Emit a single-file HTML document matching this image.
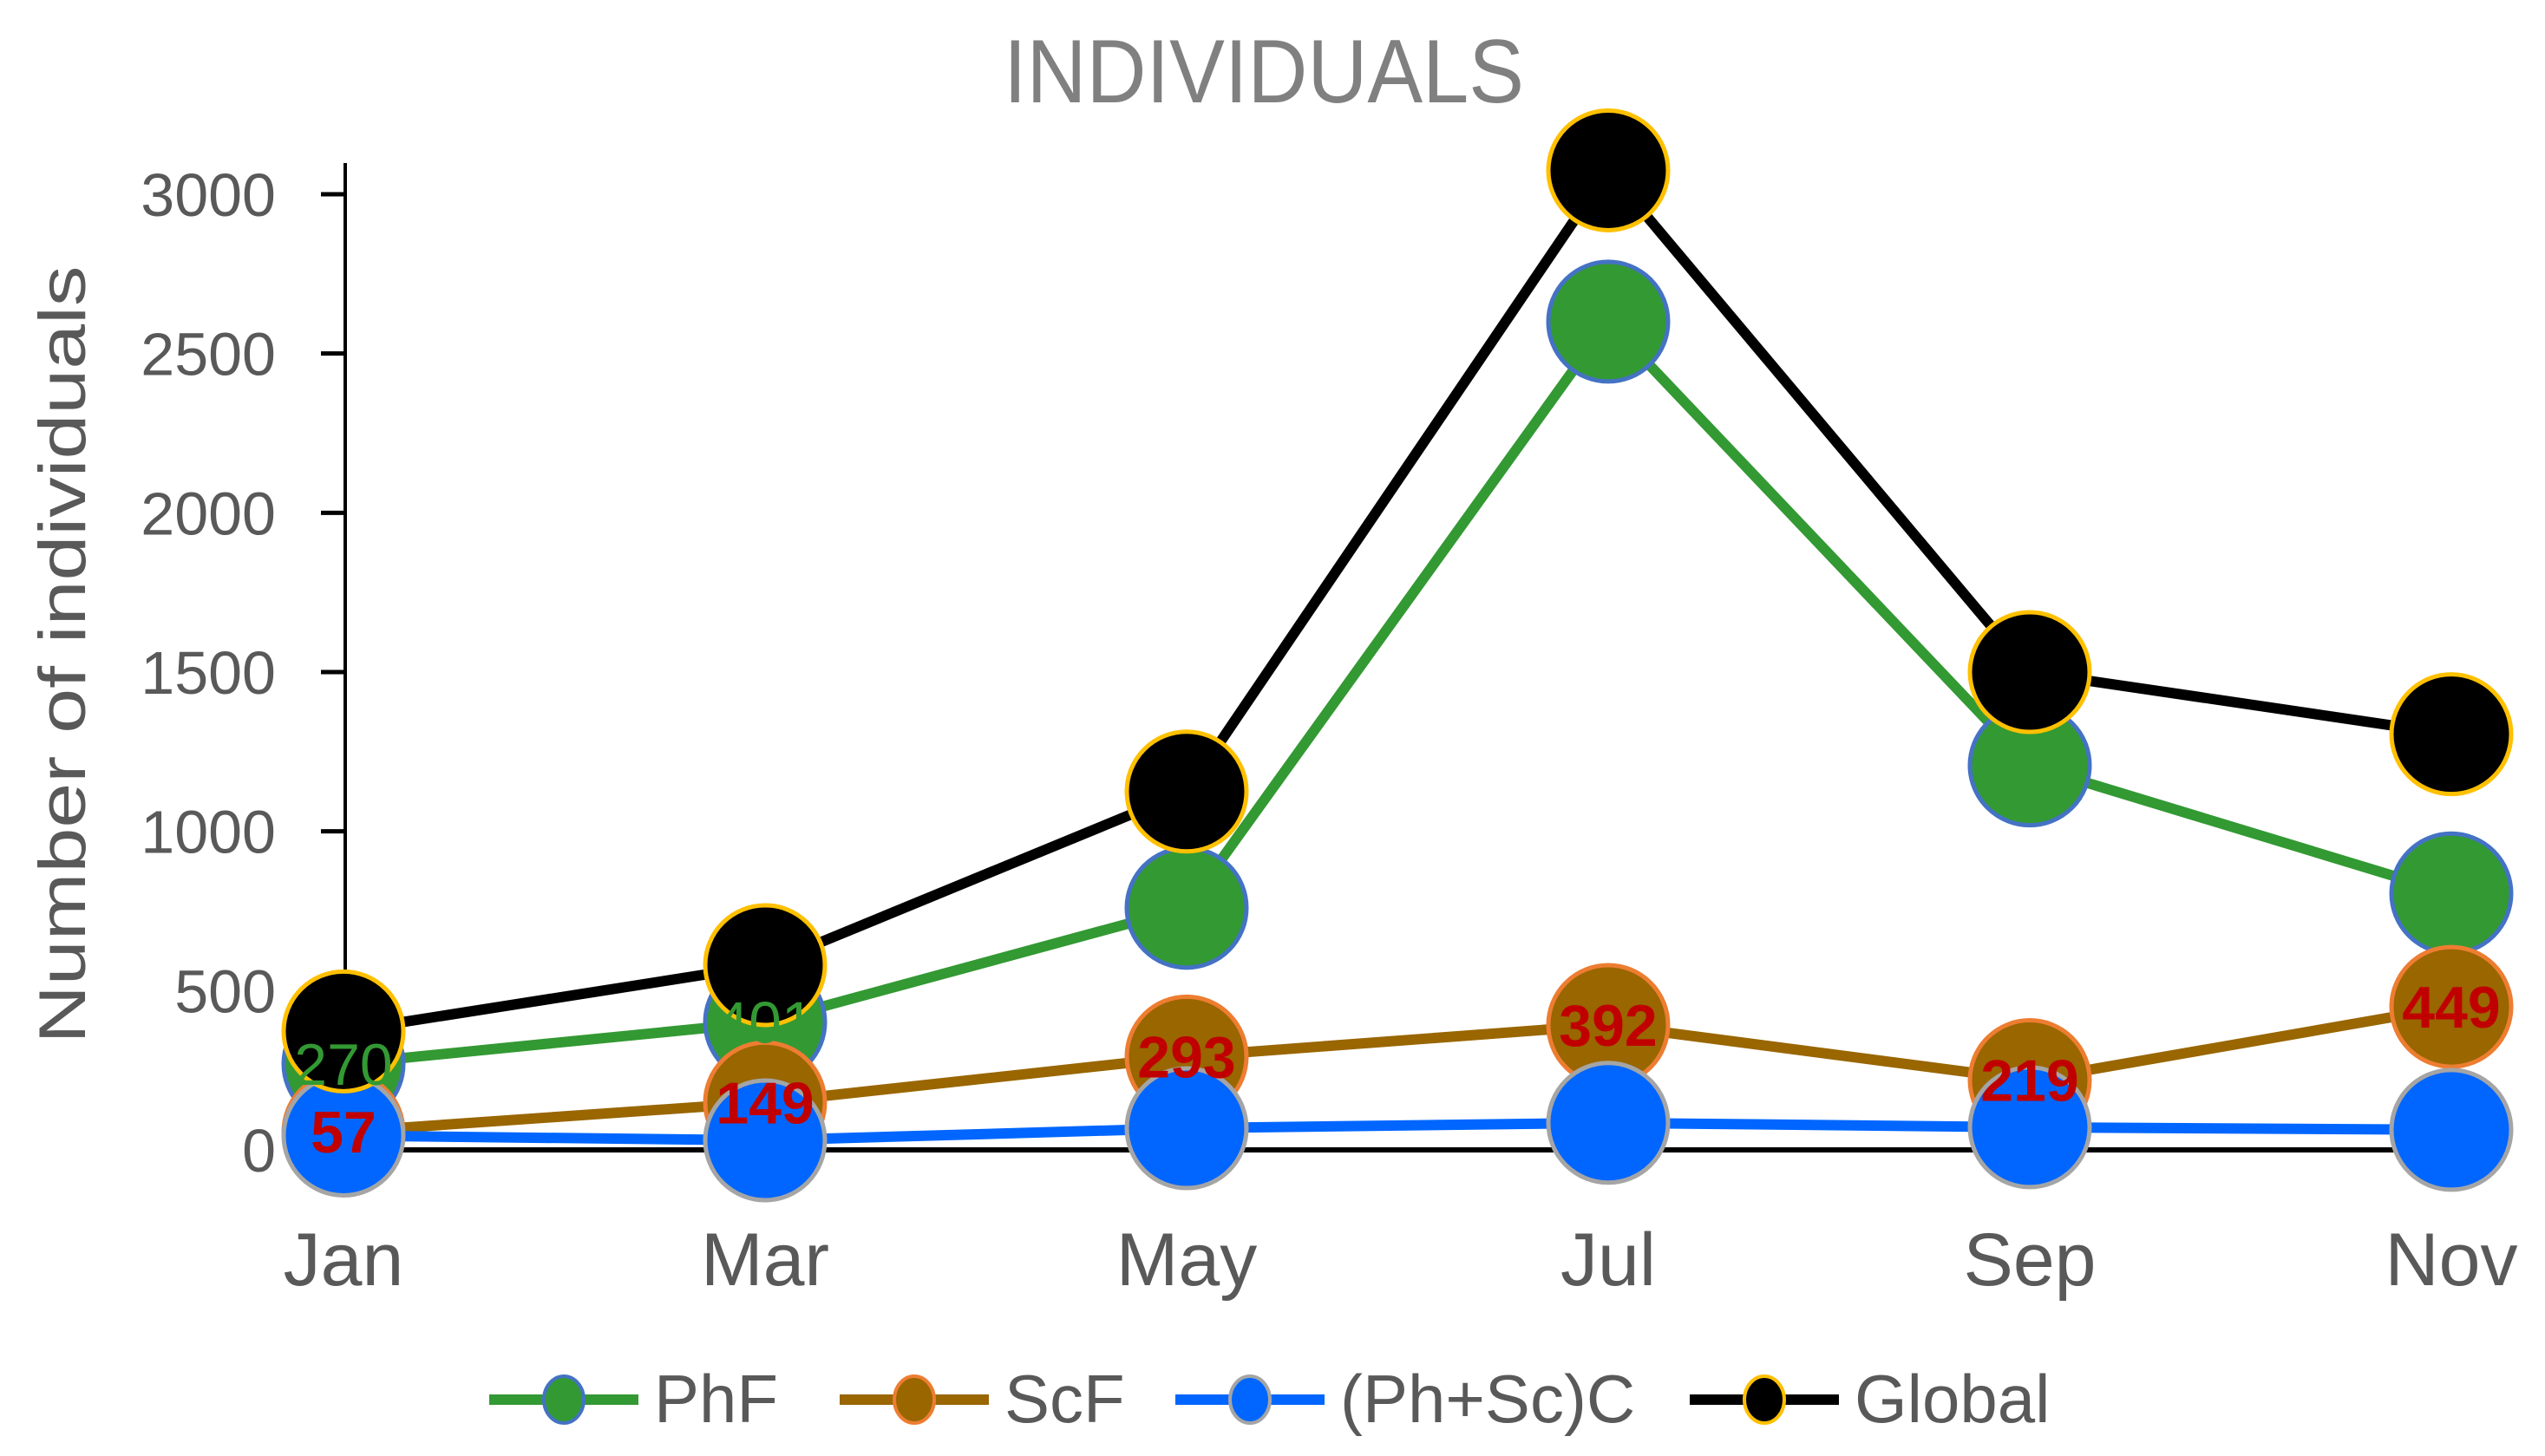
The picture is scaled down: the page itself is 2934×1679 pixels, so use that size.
<!DOCTYPE html>
<html><head><meta charset="utf-8"><style>
html,body{margin:0;padding:0;background:#fff;}
svg{display:block;}
text{font-family:"Liberation Sans",sans-serif;}
</style></head><body>
<svg id="chart" width="2934" height="1679" viewBox="0 0 2934 1679" xmlns="http://www.w3.org/2000/svg">
<rect width="2934" height="1679" fill="#fff"/>
<text x="1457" y="118" text-anchor="middle" font-size="104" fill="#808080" textLength="600" lengthAdjust="spacingAndGlyphs">INDIVIDUALS</text>
<text transform="translate(98,755) rotate(-90)" text-anchor="middle" font-size="76" fill="#595959" font-family="DejaVu Sans, sans-serif" textLength="897" lengthAdjust="spacingAndGlyphs">Number of individuals</text>
<g id="axes"></g>
<g id="series"></g>
<g id="labels"></g>
<g id="legend"></g>
</svg>
<script>
const categories = ["Jan","Mar","May","Jul","Sep","Nov"];
const phfValues = [270, 401, 760, 2600, 1207, 805];
const scfValues = [57, 149, 293, 392, 219, 449];
const cValues = [45, 30, 68, 85, 71, 63];
const globalValues = [372, 580, 1125, 3075, 1500, 1305];
const yTicks = [0, 500, 1000, 1500, 2000, 2500, 3000];
const seriesNames = ["PhF","ScF","(Ph+Sc)C","Global"];

const NS = "http://www.w3.org/2000/svg";
const X0 = 396, XSTEP = 486, Y0 = 1326, YPX = (1326 - 224) / 3000;
function xScale(i){ return X0 + i * XSTEP; }
function yScale(v){ return Y0 - v * YPX; }
function mk(tag, attrs, parent){ const e = document.createElementNS(NS, tag); for (const k in attrs) e.setAttribute(k, attrs[k]); parent.appendChild(e); return e; }

const axes = document.getElementById("axes");
const yAxis = mk("line", {x1:398, y1:188, x2:398, y2:Y0, stroke:"#000", "stroke-width":4}, axes);


yTicks.forEach(t => {
  const tk = mk("line", {x1:370, y1:yScale(t), x2:398, y2:yScale(t), stroke:"#000", "stroke-width":5}, axes);
  
  
  const lb = mk("text", {x:318, y:yScale(t)+25, "text-anchor":"end", "font-size":70, fill:"#595959"}, axes);
  lb.textContent = t;
  
  
});
const xAxis = mk("line", {x1:398, y1:Y0, x2:xScale(5), y2:Y0, stroke:"#000", "stroke-width":6}, axes);


categories.forEach((c, i) => {
  const lb = mk("text", {x:xScale(i), y:1482, "text-anchor":"middle", "font-size":86, fill:"#595959"}, axes);
  lb.textContent = c;
  
  
});

const styles = [
  {vals:phfValues, line:"#339933", fill:"#339933", edge:"#4472C4", key:"phf"},
  {vals:scfValues, line:"#996600", fill:"#996600", edge:"#ED7D31", key:"scf"},
  {vals:cValues, line:"#0066FF", fill:"#0066FF", edge:"#A5A5A5", key:"c"},
  {vals:globalValues, line:"#000000", fill:"#000000", edge:"#FFC000", key:"global"}
];
const sg = document.getElementById("series");
styles.forEach(s => {
  const g = mk("g", {}, sg);
  
  
  const pts = s.vals.map((v, i) => xScale(i) + "," + yScale(v)).join(" ");
  const pl = mk("polyline", {points:pts, fill:"none", stroke:s.line, "stroke-width":12, "stroke-linejoin":"round"}, g);
  
  
  s.vals.forEach((v, i) => {
    const c = mk("circle", {cx:xScale(i), cy:yScale(v), r:69, fill:s.fill, stroke:s.edge, "stroke-width":5}, g);
    
    
  });
});

const lg = document.getElementById("labels");
[0, 1].forEach(i => {
  const t = mk("text", {x:xScale(i), y:yScale(phfValues[i])+24, "text-anchor":"middle", "font-size":68, fill:"#339933"}, lg);
  t.textContent = phfValues[i];
  
  
});
scfValues.forEach((v, i) => {
  const t = mk("text", {x:xScale(i), y:yScale(v)+24, "text-anchor":"middle", "font-size":68, "font-weight":"bold", fill:"#C00000"}, lg);
  t.textContent = v;
  
  
});

const leg = document.getElementById("legend");
const legX = [564, 968, 1355, 1948];
styles.forEach((s, i) => {
  const g = mk("g", {}, leg);
  
  
  mk("line", {x1:legX[i], y1:1614, x2:legX[i]+172, y2:1614, stroke:s.line, "stroke-width":12}, g);
  mk("ellipse", {cx:legX[i]+86, cy:1614, rx:23, ry:27, fill:s.fill, stroke:s.edge, "stroke-width":4}, g);
  const t = mk("text", {x:legX[i]+190, y:1640, "font-size":78, fill:"#595959"}, g);
  t.textContent = seriesNames[i];
});
</script>
</body></html>
